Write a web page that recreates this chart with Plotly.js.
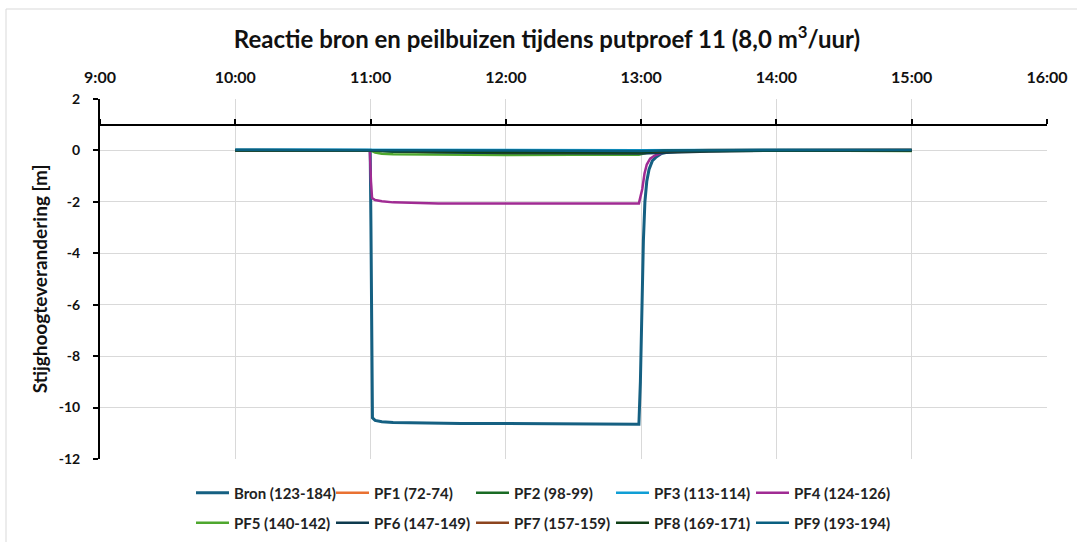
<!DOCTYPE html>
<html>
<head>
<meta charset="utf-8">
<script src="https://cdn.plot.ly/plotly-3.0.1.min.js"></script>
<style>html,body{margin:0;padding:0;background:#fff;}#chart{width:1077px;height:542px;}</style>
</head>
<body>
<div id="chart"></div>
<script>
// ---------- data ----------
const day = '2024-06-01 ';
const seriesNames = ['Bron (123-184)', 'PF1 (72-74)', 'PF2 (98-99)', 'PF3 (113-114)', 'PF4 (124-126)',
                     'PF5 (140-142)', 'PF6 (147-149)', 'PF7 (157-159)', 'PF8 (169-171)', 'PF9 (193-194)'];
const seriesColors = ['#156082', '#E97132', '#196B24', '#0F9ED5', '#A02B93',
                      '#4EA72E', '#0D3A4E', '#8C441E', '#0F4016', '#095F80'];

const bronTime  = ['10:00:00','10:30:00','10:59:50','11:00:10','11:00:30','11:00:50','11:02:00','11:05:00','11:10:00','11:20:00','11:40:00','12:00:00','12:20:00','12:40:00','12:55:00','12:59:00','12:59:40','13:00:20','13:01:00','13:01:40','13:02:30','13:03:30','13:05:00','13:06:30','13:09:00','13:12:00','13:20:00','13:40:00','14:00:00','14:30:00','15:00:00'];
const bronValue = [0.02, 0.01, 0.01, -3.0, -8.5, -10.4, -10.5, -10.55, -10.58, -10.6, -10.62, -10.62, -10.63, -10.63, -10.64, -10.65, -9.0, -5.7, -3.5, -2.0, -1.2, -0.74, -0.4, -0.27, -0.12, -0.06, -0.02, 0.0, 0.01, 0.01, 0.02];

const pf1Time  = ['10:00:00','11:00:00','11:30:00','12:00:00','12:30:00','13:00:00','13:10:00','13:30:00','14:00:00','14:30:00','15:00:00'];
const pf1Value = [0.02, 0.01, -0.02, -0.03, -0.04, -0.04, -0.01, 0.02, 0.03, 0.02, 0.03];

const pf2Time  = ['10:00:00','11:00:00','11:10:00','11:30:00','12:00:00','12:30:00','13:00:00','13:05:00','13:15:00','14:00:00','15:00:00'];
const pf2Value = [0.0, 0.0, -0.05, -0.08, -0.1, -0.11, -0.1, -0.04, -0.01, 0.0, 0.0];

const pf3Time  = ['10:00:00','11:00:00','12:00:00','13:00:00','14:00:00','15:00:00'];
const pf3Value = [0.03, 0.02, 0.01, 0.01, 0.03, 0.02];

const pf4Time  = ['10:00:00','10:30:00','10:59:40','11:00:10','11:00:40','11:02:00','11:05:00','11:10:00','11:20:00','11:30:00','12:00:00','12:30:00','12:59:00','13:00:30','13:01:30','13:02:30','13:04:00','13:06:00','13:09:00','13:13:00','13:20:00','14:00:00','15:00:00'];
const pf4Value = [0.0, 0.0, 0.0, -1.2, -1.85, -1.93, -1.98, -2.02, -2.05, -2.06, -2.06, -2.06, -2.06, -1.5, -0.9, -0.55, -0.32, -0.2, -0.1, -0.05, -0.02, 0.0, 0.0];

const pf5Time  = ['10:00:00','11:00:00','11:02:00','11:05:00','11:10:00','11:30:00','11:45:00','12:00:00','12:30:00','12:59:00','13:02:00','13:05:00','13:10:00','14:00:00','15:00:00'];
const pf5Value = [0.0, 0.0, -0.08, -0.13, -0.15, -0.17, -0.19, -0.18, -0.17, -0.17, -0.1, -0.04, -0.02, 0.0, -0.02];

const pf6Time  = ['10:00:00','11:00:00','11:10:00','11:30:00','12:00:00','12:30:00','13:00:00','13:10:00','13:20:00','13:30:00','14:00:00','15:00:00'];
const pf6Value = [0.0, 0.0, -0.03, -0.07, -0.1, -0.11, -0.12, -0.09, -0.07, -0.04, -0.01, 0.0];

const pf7Time  = ['10:00:00','11:00:00','11:30:00','12:00:00','12:30:00','13:00:00','13:10:00','14:00:00','15:00:00'];
const pf7Value = [0.0, 0.0, -0.03, -0.06, -0.06, -0.06, -0.02, 0.0, 0.01];

const pf8Time  = ['10:00:00','11:00:00','11:30:00','12:00:00','12:30:00','13:00:00','13:10:00','14:00:00','15:00:00'];
const pf8Value = [0.0, 0.0, -0.04, -0.07, -0.07, -0.07, -0.02, 0.0, 0.0];

const pf9Time  = ['10:00:00','11:00:00','11:30:00','12:00:00','12:30:00','13:00:00','13:10:00','14:00:00','15:00:00'];
const pf9Value = [0.02, 0.01, -0.01, -0.02, -0.02, -0.02, 0.0, 0.01, 0.02];

const xTickTimes  = ['09:00','10:00','11:00','12:00','13:00','14:00','15:00','16:00'];
const xTickLabels = ['9:00','10:00','11:00','12:00','13:00','14:00','15:00','16:00'];
const yTickValues = [2, 0, -2, -4, -6, -8, -10, -12];
const yTickLabels = ['2', '0', '-2', '-4', '-6', '-8', '-10', '-12'];

// ---------- build ----------
const allTimes  = [bronTime, pf1Time, pf2Time, pf3Time, pf4Time, pf5Time, pf6Time, pf7Time, pf8Time, pf9Time];
const allValues = [bronValue, pf1Value, pf2Value, pf3Value, pf4Value, pf5Value, pf6Value, pf7Value, pf8Value, pf9Value];

const FONT = 'Lato, "Open Sans", sans-serif';
const traces = seriesNames.map((name, i) => ({
  type: 'scatter', mode: 'lines', name: name,
  x: allTimes[i].map(t => day + t), y: allValues[i],
  line: {color: seriesColors[i], width: i === 0 ? 3 : 2.5},
  legend: i < 5 ? 'legend' : 'legend2',
  xaxis: 'x', yaxis: 'y'
}));
// empty trace to carry the secondary (y = 1) x-axis line
traces.push({type: 'scatter', x: [], y: [], xaxis: 'x2', yaxis: 'y', showlegend: false, hoverinfo: 'skip'});

const L = 100, R = 1047, T = 99, B = 459;
const px2x = p => (p - L) / (R - L);
const px2y = p => (B - p) / (B - T);
const xRange = [day + '09:00', day + '16:00'];

const legendCommon = {
  orientation: 'h', xanchor: 'left', yanchor: 'middle',
  xref: 'container', yref: 'container',
  entrywidth: 92, entrywidthmode: 'pixels',
  font: {family: FONT, size: 15, color: '#222', weight: 'bold'},
  bgcolor: 'rgba(0,0,0,0)', itemwidth: 33, tracegroupgap: 0
};

const layout = {
  width: 1077, height: 542,
  margin: {l: L, r: 1077 - R, t: T, b: 542 - B, pad: 0, autoexpand: false},
  paper_bgcolor: '#fff', plot_bgcolor: '#fff',
  title: {
    text: 'Reactie bron en peilbuizen tijdens putproef 11 (8,0 m<sup>3</sup>/uur)',
    font: {family: FONT, size: 24, color: '#111', weight: 'bold'},
    x: 547 / 1077, xref: 'container', xanchor: 'center',
    y: 1 - 40 / 542, yref: 'container', yanchor: 'middle'
  },
  xaxis: {
    type: 'date', range: xRange, side: 'top',
    tickvals: xTickTimes.map(t => day + t), ticktext: xTickLabels,
    showgrid: true, gridcolor: '#d9d9d9', gridwidth: 1,
    showline: false, zeroline: false, ticks: '',
    ticklabelstandoff: 12,
    tickfont: {family: FONT, size: 16, color: '#111', weight: 'bold'},
    fixedrange: true
  },
  xaxis2: {
    type: 'date', range: xRange, overlaying: 'x', anchor: 'free',
    position: px2y(125), side: 'top',
    tickvals: xTickTimes.map(t => day + t), ticktext: xTickLabels,
    showticklabels: false, showgrid: false, zeroline: false,
    showline: true, linecolor: '#000', linewidth: 2,
    ticks: 'outside', ticklen: 5, tickwidth: 2, tickcolor: '#000',
    fixedrange: true
  },
  yaxis: {
    range: [-12, 2], tickvals: yTickValues, ticktext: yTickLabels,
    showgrid: true, gridcolor: '#d9d9d9', gridwidth: 1, zeroline: false,
    showline: true, linecolor: '#000', linewidth: 2,
    ticks: 'outside', ticklen: 5, tickwidth: 2, tickcolor: '#000',
    ticklabelstandoff: 10,
    tickfont: {family: FONT, size: 14, color: '#111', weight: 'bold'},
    title: {text: 'Stijghoogteverandering [m]', standoff: 6,
            font: {family: FONT, size: 19, color: '#111', weight: 'bold'}},
    fixedrange: true
  },
  legend: Object.assign({x: 191 / 1077, y: 1 - 493 / 542}, legendCommon),
  legend2: Object.assign({x: 191 / 1077, y: 1 - 523 / 542}, legendCommon),
  shapes: [{
    type: 'rect', xref: 'paper', yref: 'paper',
    x0: px2x(6), x1: px2x(1085), y0: px2y(9), y1: px2y(560),
    line: {color: '#d9d9d9', width: 1}, fillcolor: 'rgba(0,0,0,0)', layer: 'below'
  }],
  showlegend: true
};

Plotly.newPlot('chart', traces, layout, {displayModeBar: false, staticPlot: true});
</script>
</body>
</html>
